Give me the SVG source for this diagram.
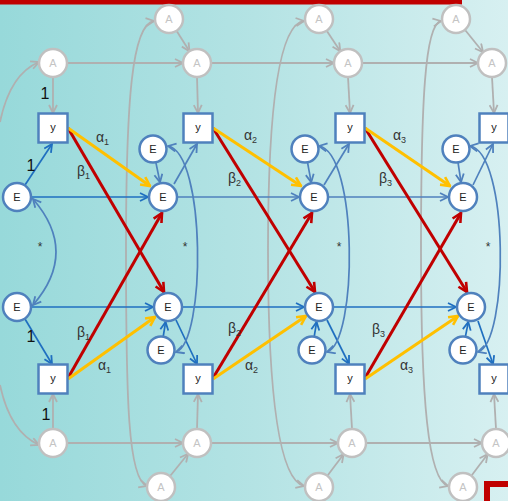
<svg xmlns="http://www.w3.org/2000/svg" width="508" height="501" viewBox="0 0 508 501">
<defs>
<linearGradient id="bg" x1="0" y1="0" x2="1" y2="0">
<stop offset="0" stop-color="#97d9da"/>
<stop offset="0.5" stop-color="#b4e3e4"/>
<stop offset="1" stop-color="#d7f0f1"/>
</linearGradient>
<marker id="mg" viewBox="0 0 10 10" refX="9" refY="5" markerWidth="10" markerHeight="10" markerUnits="userSpaceOnUse" orient="auto-start-reverse"><path d="M1,1 L9,5 L1,9" fill="none" stroke="#b0b0b0" stroke-width="1.8"/></marker>
<marker id="mb" viewBox="0 0 10 10" refX="9" refY="5" markerWidth="10" markerHeight="10" markerUnits="userSpaceOnUse" orient="auto-start-reverse"><path d="M1,1 L9,5 L1,9" fill="none" stroke="#4f81bd" stroke-width="1.8"/></marker>
<marker id="md" viewBox="0 0 10 10" refX="9" refY="5" markerWidth="10" markerHeight="10" markerUnits="userSpaceOnUse" orient="auto-start-reverse"><path d="M1,1 L9,5 L1,9" fill="none" stroke="#1f6fc0" stroke-width="1.8"/></marker>
<marker id="mr" viewBox="0 0 12 12" refX="10.5" refY="6" markerWidth="12" markerHeight="12" markerUnits="userSpaceOnUse" orient="auto"><path d="M1.5,1.5 L10.5,6 L1.5,10.5" fill="none" stroke="#c00000" stroke-width="2.6"/></marker>
<marker id="my" viewBox="0 0 12 12" refX="10.5" refY="6" markerWidth="12" markerHeight="12" markerUnits="userSpaceOnUse" orient="auto"><path d="M1.5,1.5 L10.5,6 L1.5,10.5" fill="none" stroke="#ffc000" stroke-width="2.6"/></marker>
</defs>
<style>
.a circle{fill:#fff;stroke:#c0c0c0;stroke-width:2.5}
.a text{fill:#c4c4c4;font-family:"Liberation Sans",Arial,sans-serif;font-size:11px;text-anchor:middle}
.e circle{fill:#fff;stroke:#4f81bd;stroke-width:2.5}
.e text,.y text{fill:#222;font-family:"Liberation Sans",Arial,sans-serif;font-size:11px;text-anchor:middle}
.y rect{fill:#fff;stroke:#4f81bd;stroke-width:2.5}
.g{fill:none;stroke:#b0b0b0;stroke-width:1.8;marker-end:url(#mg)}
.b{fill:none;stroke:#4f81bd;stroke-width:1.7;marker-end:url(#mb)}
.d{fill:none;stroke:#1f6fc0;stroke-width:1.7;marker-end:url(#md)}
.r{fill:none;stroke:#c00000;stroke-width:3;marker-end:url(#mr)}
.yl{fill:none;stroke:#ffc000;stroke-width:3;marker-end:url(#my)}
.lb{fill:#333;font-family:"Liberation Sans",Arial,sans-serif;font-size:14px}
.lb tspan{font-size:9px}
.one{fill:#111;font-family:"Liberation Sans",Arial,sans-serif;font-size:16px;text-anchor:middle}
.st{fill:#333;font-family:"Liberation Sans",Arial,sans-serif;font-size:12px;text-anchor:middle}
</style>
<rect width="508" height="501" fill="url(#bg)"/>
<rect x="0" y="0" width="462" height="4.5" fill="#c00000"/>
<rect x="487" y="484" width="40" height="40" fill="none" stroke="#c00000" stroke-width="6"/>

<g id="connectors">
<!-- gray -->
<path class="g" d="M0,122 Q10,74 39,62"/>
<path class="g" d="M0,385 Q10,432 39,445"/>
<path class="g" d="M53,77 L53,113"/>
<path class="g" d="M67,63 L183,63"/>
<path class="g" d="M211,63 L334,63"/>
<path class="g" d="M362,63 L478,63"/>
<path class="g" d="M176.5,30.8 L189.5,51.2"/>
<path class="g" d="M326.7,30.7 L340.3,51.3"/>
<path class="g" d="M464.9,29.8 L483.1,52.2"/>
<path class="g" d="M197,77 L198,113"/>
<path class="g" d="M348,77 L350,113"/>
<path class="g" d="M492,77 L494,113"/>
<path class="g" d="M53,429 L53,394"/>
<path class="g" d="M197,429 L198,394"/>
<path class="g" d="M352,429 L350,394"/>
<path class="g" d="M496,429 L494,394"/>
<path class="g" d="M67,443 L183,443"/>
<path class="g" d="M211,443 L338,443"/>
<path class="g" d="M366,443 L482,443"/>
<path class="g" d="M169.9,476.2 L188.1,453.8"/>
<path class="g" d="M327.4,475.8 L343.6,454.2"/>
<path class="g" d="M471.4,475.8 L487.6,454.2"/>
<path class="g" style="marker-start:url(#mg)" d="M154,21 C132,24 126,100 126,250 C126,400 128,480 147,486"/>
<path class="g" style="marker-start:url(#mg)" d="M304,21 C280,24 268,100 268,250 C268,400 280,480 304,486"/>
<path class="g" style="marker-start:url(#mg)" d="M441,21 C425,24 421,100 421,250 C421,400 428,480 448,486"/>
<!-- blue -->
<path class="d" d="M25,185 L52,144"/>
<path class="d" d="M25,319 L52,364"/>
<path class="d" d="M32,197 L148,197"/>
<path class="b" d="M178,197 L299,197"/>
<path class="b" d="M329,197 L448,197"/>
<path class="d" d="M32,307 L153,307"/>
<path class="d" d="M183,307 L304,307"/>
<path class="d" d="M334,307 L456,307"/>
<path class="b" style="marker-start:url(#mb)" d="M33,199 Q79,252 33,305"/>
<path class="b" d="M155.9,162.7 L160,182.3"/>
<path class="b" d="M307.6,162.8 L311.2,182.3"/>
<path class="b" d="M458,162.4 L461,182.1"/>
<path class="b" d="M174,184 L197,144"/>
<path class="b" d="M324,185 L349,144"/>
<path class="b" d="M473,185 L493,144"/>
<path class="d" d="M163.2,336.7 L165.6,322"/>
<path class="d" d="M314.2,336.7 L316.6,322"/>
<path class="d" d="M465.4,336.7 L468.3,322"/>
<path class="d" d="M176,320 L197,364"/>
<path class="d" d="M327,320 L349,364"/>
<path class="d" d="M478,321 L493,364"/>
<path class="b" style="marker-start:url(#mb)" d="M168,146 C206,153 206,342 176,352"/>
<path class="b" style="marker-start:url(#mb)" d="M319,146 C358,153 358,342 327,352"/>
<path class="b" style="marker-start:url(#mb)" d="M470,146 C509,153 509,342 478,352"/>
<!-- red -->
<path class="r" d="M68,128 L164,292"/>
<path class="r" d="M68,378 L162,213"/>
<path class="r" d="M213,128 L315,292"/>
<path class="r" d="M213,378 L312,213"/>
<path class="r" d="M365,128 L467,292"/>
<path class="r" d="M365,378 L461,213"/>
<!-- yellow -->
<path class="yl" d="M68,128 L150,186"/>
<path class="yl" d="M68,379 L155,317"/>
<path class="yl" d="M213,128 L301,186"/>
<path class="yl" d="M213,379 L306,316"/>
<path class="yl" d="M365,128 L450,186"/>
<path class="yl" d="M365,379 L458,316"/>
<!-- labels -->
<text class="one" x="45" y="99">1</text>
<text class="one" x="31" y="171">1</text>
<text class="one" x="31" y="342">1</text>
<text class="one" x="46" y="420">1</text>
<text class="st" x="40" y="251">*</text>
<text class="st" x="185" y="251">*</text>
<text class="st" x="339" y="251">*</text>
<text class="st" x="488" y="251">*</text>
<text class="lb" x="96" y="142">α<tspan dy="3">1</tspan></text>
<text class="lb" x="244" y="140">α<tspan dy="3">2</tspan></text>
<text class="lb" x="393" y="140">α<tspan dy="3">3</tspan></text>
<text class="lb" x="98" y="370">α<tspan dy="3">1</tspan></text>
<text class="lb" x="245" y="370">α<tspan dy="3">2</tspan></text>
<text class="lb" x="400" y="370">α<tspan dy="3">3</tspan></text>
<text class="lb" x="77" y="176">β<tspan dy="3">1</tspan></text>
<text class="lb" x="228" y="183">β<tspan dy="3">2</tspan></text>
<text class="lb" x="379" y="183">β<tspan dy="3">3</tspan></text>
<text class="lb" x="77" y="337">β<tspan dy="3">1</tspan></text>
<text class="lb" x="228" y="333">β<tspan dy="3">2</tspan></text>
<text class="lb" x="372" y="334">β<tspan dy="3">3</tspan></text>
</g>

<g id="A_t1" class="a"><circle cx="169" cy="19" r="14"/><text x="169" y="23">A</text></g>
<g id="A_t2" class="a"><circle cx="319" cy="19" r="14"/><text x="319" y="23">A</text></g>
<g id="A_t3" class="a"><circle cx="456" cy="19" r="14"/><text x="456" y="23">A</text></g>
<g id="A_0" class="a"><circle cx="53" cy="63" r="14"/><text x="53" y="67">A</text></g>
<g id="A_1" class="a"><circle cx="197" cy="63" r="14"/><text x="197" y="67">A</text></g>
<g id="A_2" class="a"><circle cx="348" cy="63" r="14"/><text x="348" y="67">A</text></g>
<g id="A_3" class="a"><circle cx="492" cy="63" r="14"/><text x="492" y="67">A</text></g>
<g id="B_0" class="a"><circle cx="53" cy="443" r="14"/><text x="53" y="447">A</text></g>
<g id="B_1" class="a"><circle cx="197" cy="443" r="14"/><text x="197" y="447">A</text></g>
<g id="B_2" class="a"><circle cx="352" cy="443" r="14"/><text x="352" y="447">A</text></g>
<g id="B_3" class="a"><circle cx="496" cy="443" r="14"/><text x="496" y="447">A</text></g>
<g id="A_b1" class="a"><circle cx="161" cy="487" r="14"/><text x="161" y="491">A</text></g>
<g id="A_b2" class="a"><circle cx="319" cy="487" r="14"/><text x="319" y="491">A</text></g>
<g id="A_b3" class="a"><circle cx="463" cy="487" r="14"/><text x="463" y="491">A</text></g>

<g id="y_t0" class="y"><rect x="38.5" y="113.5" width="29" height="29"/><text x="53" y="131">y</text></g>
<g id="y_t1" class="y"><rect x="183.5" y="113.5" width="29" height="29"/><text x="198" y="131">y</text></g>
<g id="y_t2" class="y"><rect x="335.5" y="113.5" width="29" height="29"/><text x="350" y="131">y</text></g>
<g id="y_t3" class="y"><rect x="479.5" y="113.5" width="29" height="29"/><text x="494" y="131">y</text></g>
<g id="y_b0" class="y"><rect x="38.5" y="364.5" width="29" height="29"/><text x="53" y="382">y</text></g>
<g id="y_b1" class="y"><rect x="183.5" y="364.5" width="29" height="29"/><text x="198" y="382">y</text></g>
<g id="y_b2" class="y"><rect x="335.5" y="364.5" width="29" height="29"/><text x="350" y="382">y</text></g>
<g id="y_b3" class="y"><rect x="479.5" y="364.5" width="29" height="29"/><text x="494" y="382">y</text></g>

<g id="E_a0" class="e"><circle cx="17" cy="197" r="14"/><text x="17" y="201">E</text></g>
<g id="E_a1" class="e"><circle cx="163" cy="197" r="14"/><text x="163" y="201">E</text></g>
<g id="E_a2" class="e"><circle cx="314" cy="197" r="14"/><text x="314" y="201">E</text></g>
<g id="E_a3" class="e"><circle cx="463" cy="197" r="14"/><text x="463" y="201">E</text></g>
<g id="E_b0" class="e"><circle cx="17" cy="307" r="14"/><text x="17" y="311">E</text></g>
<g id="E_b1" class="e"><circle cx="168" cy="307" r="14"/><text x="168" y="311">E</text></g>
<g id="E_b2" class="e"><circle cx="319" cy="307" r="14"/><text x="319" y="311">E</text></g>
<g id="E_b3" class="e"><circle cx="471" cy="307" r="14"/><text x="471" y="311">E</text></g>
<g id="e_t1" class="e"><circle cx="153" cy="149" r="13.5"/><text x="153" y="153">E</text></g>
<g id="e_t2" class="e"><circle cx="305" cy="149" r="13.5"/><text x="305" y="153">E</text></g>
<g id="e_t3" class="e"><circle cx="456" cy="149" r="13.5"/><text x="456" y="153">E</text></g>
<g id="e_b1" class="e"><circle cx="161" cy="350" r="13.5"/><text x="161" y="354">E</text></g>
<g id="e_b2" class="e"><circle cx="312" cy="350" r="13.5"/><text x="312" y="354">E</text></g>
<g id="e_b3" class="e"><circle cx="463" cy="350" r="13.5"/><text x="463" y="354">E</text></g>
</svg>
